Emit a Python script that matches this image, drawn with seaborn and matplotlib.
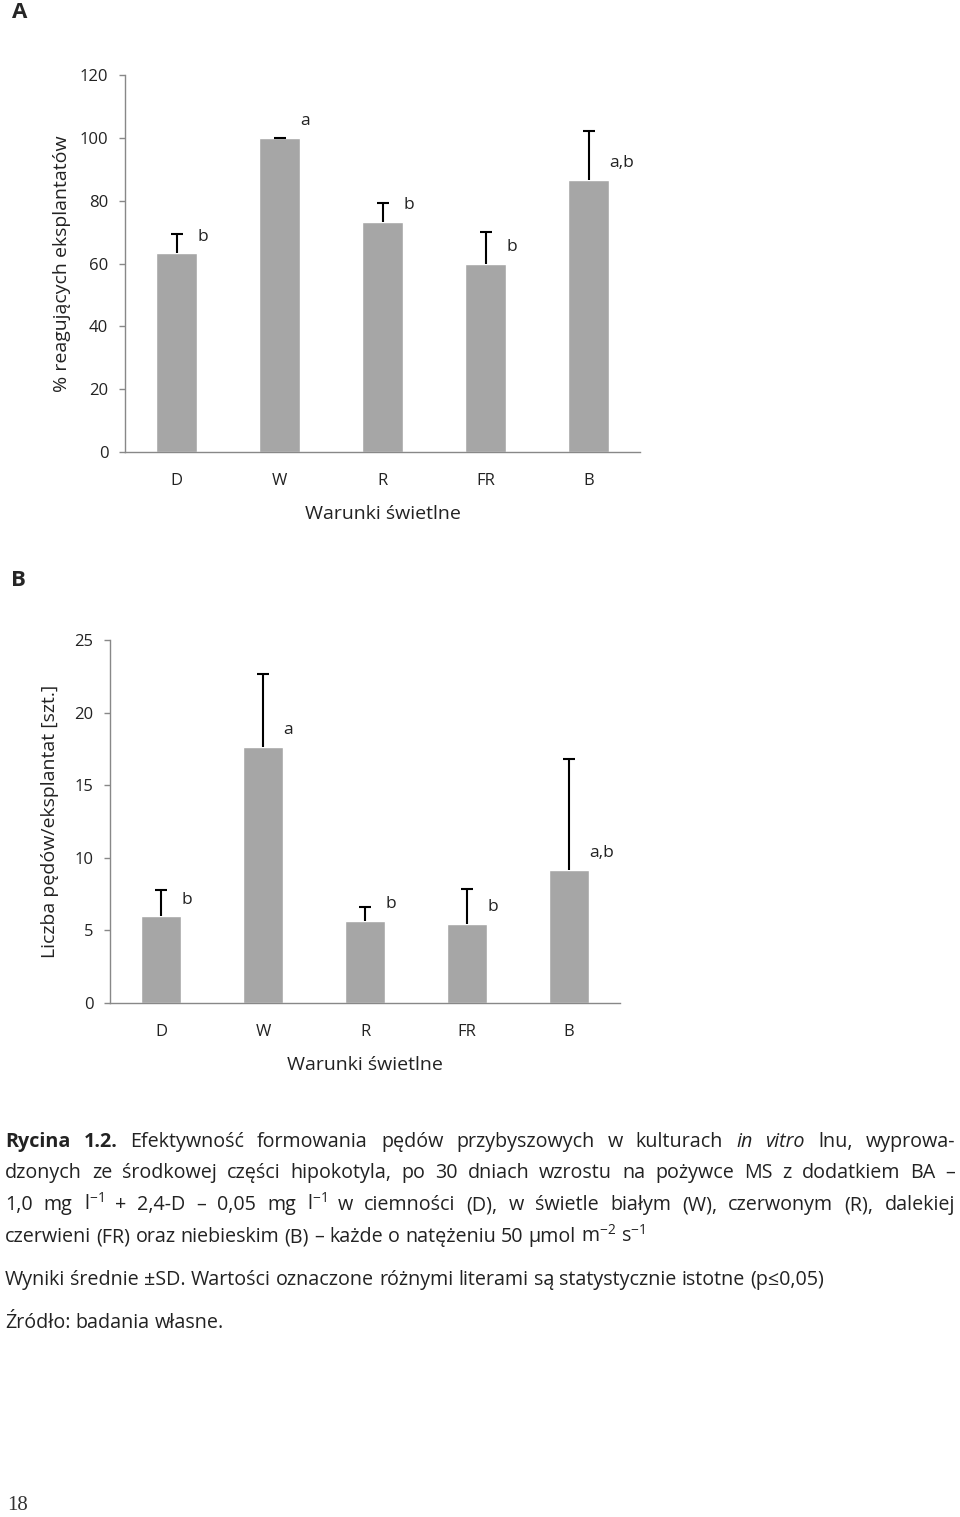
import matplotlib
matplotlib.use("Agg")
import matplotlib.pyplot as plt
import matplotlib.transforms as mtrans
import seaborn as sns
import pandas as pd

# --- data ---
conditions = ["D", "W", "R", "FR", "B"]

pct_mean = [63.2, 100.0, 73.3, 59.8, 86.6]
pct_sd = [6.1, 0.0, 5.8, 10.3, 15.5]
pct_letters = ["b", "a", "b", "b", "a,b"]

shoots_mean = [5.96, 17.66, 5.67, 5.46, 9.17]
shoots_sd = [1.84, 4.98, 0.91, 2.41, 7.64]
shoots_letters = ["b", "a", "b", "b", "a,b"]

sns.set_style("white")
plt.rcParams["font.family"] = ["Open Sans", "DejaVu Sans"]
plt.rcParams["mathtext.fontset"] = "custom"
plt.rcParams["mathtext.rm"] = "Open Sans"
plt.rcParams["mathtext.it"] = "Open Sans:italic"

W, H = 960, 1517
fig = plt.figure(figsize=(W / 100, H / 100), dpi=100)

bar_grey = "#a6a6a6"
spine_grey = "#888888"
txt = "#222222"


def draw_panel(ax, means, sds, letters, ymax, step, ylabel, ypad):
    df = pd.DataFrame({"cond": conditions, "val": means})
    sns.barplot(data=df, x="cond", y="val", color=bar_grey, saturation=1,
                width=0.4, ax=ax, zorder=2)
    xs = [p.get_x() + p.get_width() / 2 for p in ax.patches]
    _, caps, _ = ax.errorbar(xs, means, yerr=[[0] * len(sds), sds], fmt="none",
                             ecolor="black", elinewidth=1.5, capsize=4.5,
                             capthick=1.5, zorder=3)
    # only the upper cap is drawn in the original
    caps[0].set_visible(False)
    for x, m, lab in zip(xs, means, letters):
        ax.annotate(lab, (x + 0.2, m), xytext=(0, 12), textcoords="offset points",
                    ha="left", va="center", fontsize=12.5, color=txt)
    ax.set_xlim(-0.5, 4.5)
    ax.set_ylim(0, ymax)
    ax.set_yticks(range(0, ymax + 1, step))
    for s in ["top", "right"]:
        ax.spines[s].set_visible(False)
    for s in ["left", "bottom"]:
        ax.spines[s].set_color(spine_grey)
        ax.spines[s].set_linewidth(1.0)
    ax.tick_params(axis="y", length=4, color=spine_grey, width=1.0, labelsize=12,
                   labelcolor=txt, pad=8, left=True)
    ax.tick_params(axis="x", length=0, labelsize=12, labelcolor=txt, pad=15)
    ax.set_xlabel("Warunki świetlne", fontsize=14, color=txt, labelpad=12)
    ax.set_ylabel(ylabel, fontsize=14, color=txt, labelpad=ypad)


ax_a = fig.add_axes([125 / W, 1 - 452 / H, 515 / W, 377 / H])
draw_panel(ax_a, pct_mean, pct_sd, pct_letters, 120, 20,
           "% reagujących eksplantatów", 6)

ax_b = fig.add_axes([110 / W, 1 - 1003 / H, 510 / W, 363 / H])
draw_panel(ax_b, shoots_mean, shoots_sd, shoots_letters, 25, 5,
           "Liczba pędów/eksplantat [szt.]", 11)

fig.text(20 / W, 1 - 12 / H, "A", fontsize=16, fontweight="bold", ha="center", va="center")
fig.text(18 / W, 1 - 580 / H, "B", fontsize=16, fontweight="bold", ha="center", va="center")

# --- caption ---
ident = mtrans.IdentityTransform()
cap_size = 14.2
renderer = fig.canvas.get_renderer()

B_ = {"fontweight": "bold"}
I_ = {"fontstyle": "italic"}
N_ = {}


def words(s, style=N_):
    return [(w, style) for w in s.split(" ")]


def place_line(y_base, tokens, justify=True, x0=5, x1=955):
    yb = H - y_base
    texts = []
    for s, kw in tokens:
        t = fig.text(0, yb, s, transform=ident, fontsize=cap_size, color=txt,
                     va="baseline", ha="left", **kw)
        texts.append(t)
    widths = [t.get_window_extent(renderer).width for t in texts]
    if justify and len(texts) > 1:
        gap = (x1 - x0 - sum(widths)) / (len(texts) - 1)
    else:
        gap = cap_size * 100 / 72 * 0.26
    x = x0
    for t, w in zip(texts, widths):
        t.set_x(x)
        x += w + gap


line1 = words("Rycina 1.2.", B_) + words("Efektywność formowania pędów przybyszowych w kulturach") \
    + words("in vitro", I_) + words("lnu, wyprowa-")
line2 = words("dzonych ze środkowej części hipokotyla, po 30 dniach wzrostu na pożywce MS z dodatkiem BA –")
line3 = words("1,0 mg l$^{-1}$ + 2,4-D – 0,05 mg l$^{-1}$ w ciemności (D), w świetle białym (W), "
              "czerwonym (R), dalekiej")
line4 = words("czerwieni (FR) oraz niebieskim (B) – każde o natężeniu 50 µmol m$^{-2}$ s$^{-1}$")
line5 = words("Wyniki średnie ±SD. Wartości oznaczone różnymi literami są statystycznie istotne (p≤0,05)")
line6 = words("Źródło: badania własne.")

place_line(1147, line1)
place_line(1178, line2)
place_line(1210, line3)
place_line(1242, line4, justify=False)
place_line(1285, line5, justify=False)
place_line(1328, line6, justify=False)

fig.text(18 / W, 1 - 1505 / H, "18", fontsize=15, color="#333333",
         family="Liberation Serif", ha="center", va="center")

fig.savefig("out.png", dpi=100)
